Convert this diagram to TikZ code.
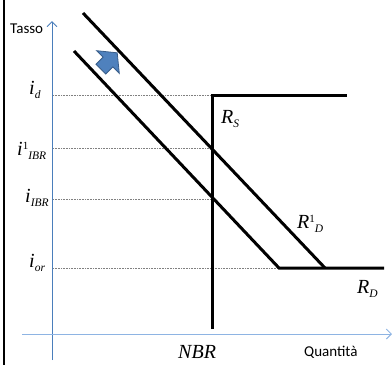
\documentclass[tikz,border=0pt]{standalone}
\usepackage{fontspec}
\setmainfont{Liberation Serif}
\newfontfamily\lblsans{Carlito}
\usetikzlibrary{arrows.meta}
\definecolor{axisY}{HTML}{4A7EBB}
\definecolor{axisX}{HTML}{8EB4E3}
\definecolor{arrfill}{HTML}{4F81BD}
\definecolor{arredge}{HTML}{385D8A}
\tikzset{
  curve/.style={line width=3pt,black},
  guide/.style={gray,line width=0.8pt,dash pattern=on 0.8pt off 0.8pt},
  lbl/.style={inner sep=0pt,anchor=base west,font=\fontsize{20}{20}\selectfont\itshape},
  sans/.style={inner sep=0pt,anchor=base west,font=\lblsans\fontsize{15}{15}\selectfont},
}
\newcommand{\sbx}[1]{\raisebox{-4pt}{\fontsize{11.5}{11.5}\selectfont\itshape #1}}
\newcommand{\spx}[1]{\raisebox{6pt}{\fontsize{11}{11}\selectfont\upshape #1}}
\begin{document}
\begin{tikzpicture}[x=1pt,y=-1pt]
\useasboundingbox (0,0) rectangle (392,365);
% border
\draw[line width=2.5pt] (4,0) -- (4,365);
% axes
\coordinate (ytop) at (52,21);
\coordinate (ybot) at (52,360);
\coordinate (xl) at (22,334);
\coordinate (xr) at (392,334);
\draw[axisY,line width=0.9pt,-{Straight Barb[length=5pt,width=10pt]}] (ybot) -- (ytop);
\draw[axisX,line width=1pt,-{Straight Barb[length=5pt,width=10pt]}] (xl) -- (xr);
% key points
\coordinate (rs1) at (212,329);
\coordinate (rs2) at (212,95);
\coordinate (rs3) at (347,95);
\coordinate (d0a) at (74,51);
\coordinate (d0b) at (279,268);
\coordinate (d0c) at (384,268);
\coordinate (d1a) at (83,13);
\coordinate (d1b) at (325,268);
% guide lines
\coordinate (gd) at (53,95);
\coordinate (g1) at (53,148);
\coordinate (g2) at (53,199);
\coordinate (g3) at (53,268);
\coordinate (h1) at (212,148);
\coordinate (h2) at (212,199);
\draw[guide] (gd) -- (rs2);
\draw[guide] (g1) -- (h1);
\draw[guide] (g2) -- (h2);
\draw[guide] (g3) -- (d0b);
% curves
\draw[curve] (rs1) -- (rs2) -- (rs3);
\draw[curve] (d0a) -- (d0b) -- (d0c);
\draw[curve] (d1a) -- (d1b);
% block arrow
\draw[arredge,fill=arrfill,line width=0.8pt,line join=miter]
  (117.2,52.8) -- (119.3,73.3) -- (112.9,66.9) -- (105.8,74.0) -- (96.0,64.2)
  -- (103.1,57.1) -- (96.7,50.7) -- cycle;
% labels
\node[sans] (tasso) at (10,33) {Tasso};
\node[sans] (quant) at (304,356) {Quantità};
\node[lbl] (id) at (29,94) {i\sbx{d}};
\node[lbl] (i1) at (17,155) {i\spx{1}\sbx{IBR}};
\node[lbl] (iibr) at (25,202) {i\sbx{IBR}};
\node[lbl] (ior) at (29,267) {i\sbx{or}};
\node[lbl] (rs) at (221,123) {R\sbx{S}};
\node[lbl] (r1d) at (297,228) {R\spx{1}\sbx{D}};
\node[lbl] (rd) at (357,293) {R\sbx{D}};
\node[lbl] (nbr) at (178,358) {NBR};
\end{tikzpicture}
\end{document}
